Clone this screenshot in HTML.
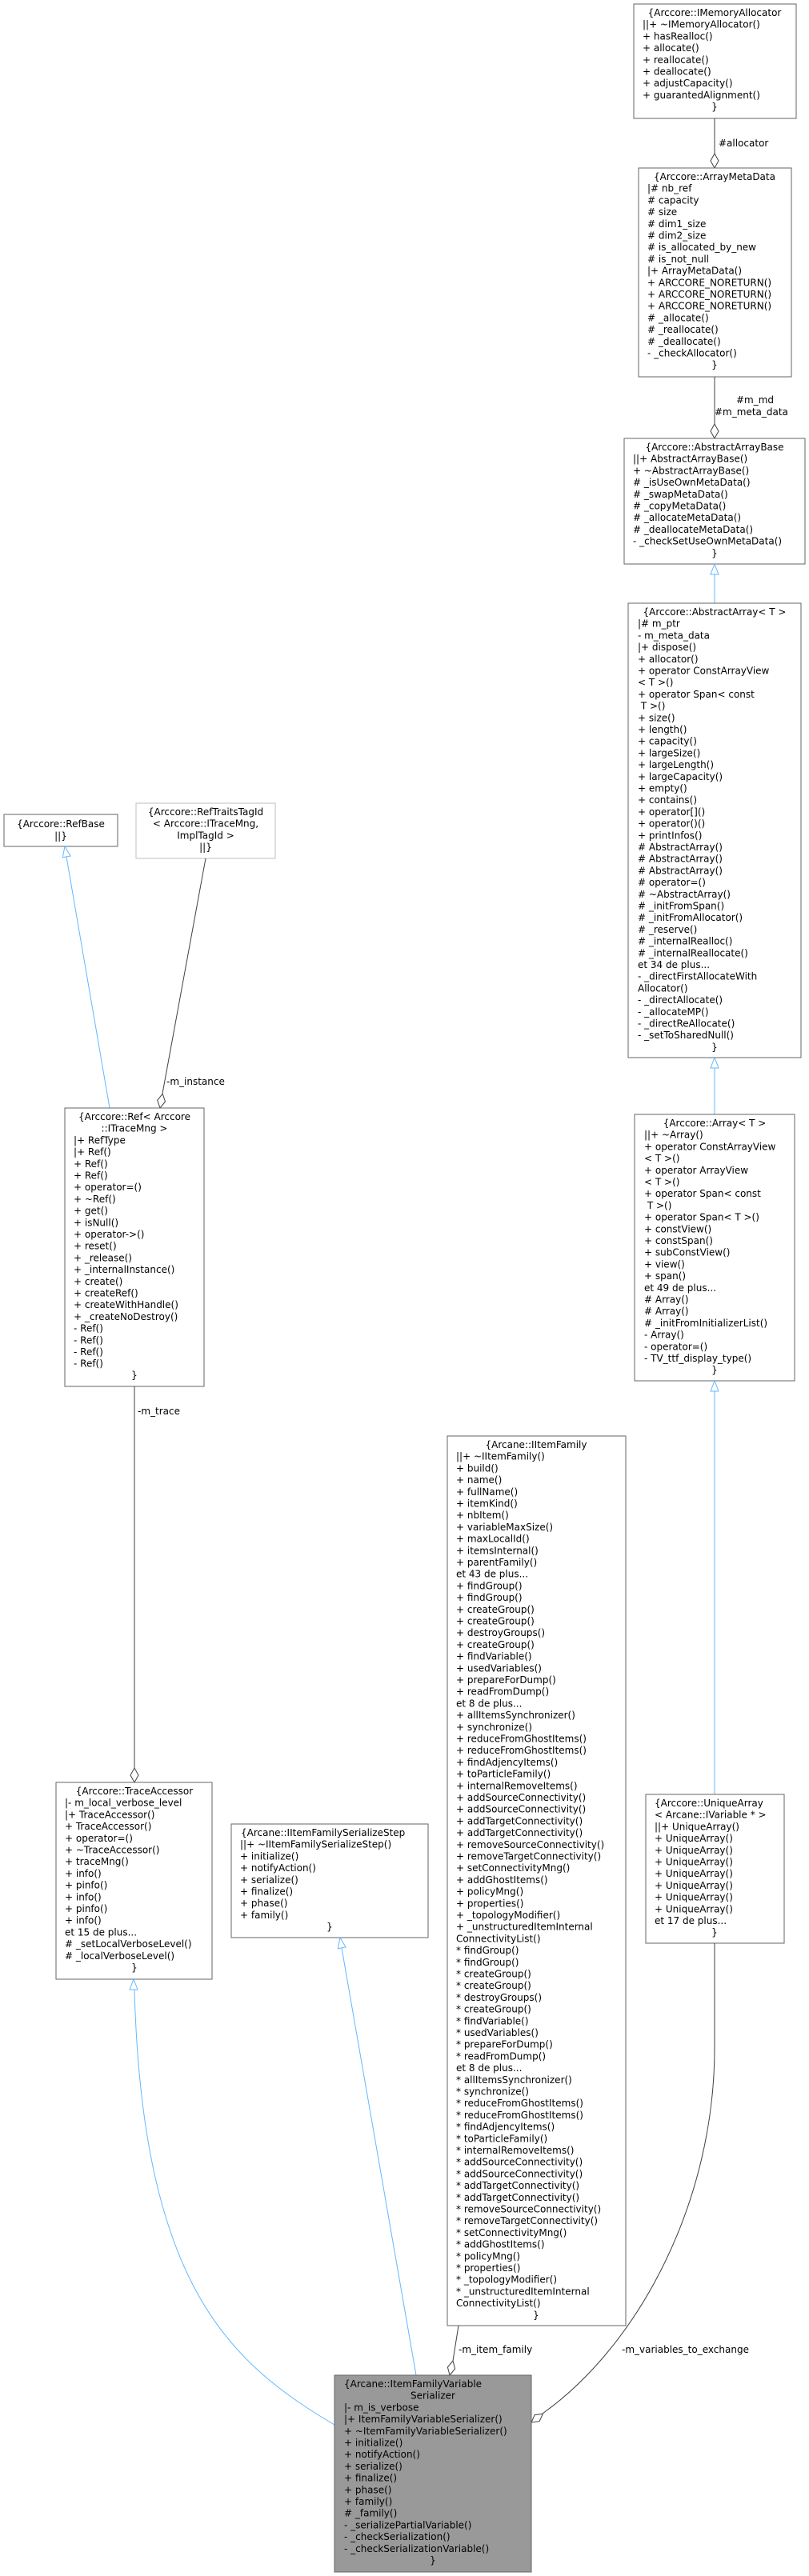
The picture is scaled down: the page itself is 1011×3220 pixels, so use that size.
<!DOCTYPE html>
<html><head><meta charset="utf-8"><style>
html,body{margin:0;padding:0;background:#fff;}
svg{display:block;}
text{font-family:"DejaVu Sans","Liberation Sans",sans-serif;font-size:12px;fill:#000;}
.b{fill:#fff;stroke:#666;stroke-width:1;}
.inh{fill:none;stroke:#63b8ff;stroke-width:1;}
.use{fill:none;stroke:#404040;stroke-width:1;}
.tri{fill:#fff;stroke:#63b8ff;stroke-width:1;}
.dia{fill:#fff;stroke:#404040;stroke-width:1;}
.m{text-anchor:middle;}
</style></head><body>
<svg width="1011" height="3220" viewBox="0 0 1011 3220" xmlns="http://www.w3.org/2000/svg">

<!-- IMemoryAllocator -->
<rect class="b" x="792" y="5" width="203" height="143"/>
<text class="m" x="893" y="20">{Arccore::IMemoryAllocator</text>
<text x="803" y="20"><tspan x="803" dy="14.7">||+ ~IMemoryAllocator()</tspan><tspan x="803" dy="14.7">+ hasRealloc()</tspan><tspan x="803" dy="14.7">+ allocate()</tspan><tspan x="803" dy="14.7">+ reallocate()</tspan><tspan x="803" dy="14.7">+ deallocate()</tspan><tspan x="803" dy="14.7">+ adjustCapacity()</tspan><tspan x="803" dy="14.7">+ guarantedAlignment()</tspan></text>
<text class="m" x="893" y="137.6">}</text>

<line class="use" x1="893" y1="148" x2="893" y2="192"/>
<polygon class="dia" points="893,210 898,201 893,192 888,201"/>
<text x="898" y="183">#allocator</text>

<!-- ArrayMetaData -->
<rect class="b" x="798" y="210" width="191" height="261"/>
<text class="m" x="893" y="225">{Arccore::ArrayMetaData</text>
<text x="809" y="225"><tspan x="809" dy="14.7">|# nb_ref</tspan><tspan x="809" dy="14.7"># capacity</tspan><tspan x="809" dy="14.7"># size</tspan><tspan x="809" dy="14.7"># dim1_size</tspan><tspan x="809" dy="14.7"># dim2_size</tspan><tspan x="809" dy="14.7"># is_allocated_by_new</tspan><tspan x="809" dy="14.7"># is_not_null</tspan><tspan x="809" dy="14.7">|+ ArrayMetaData()</tspan><tspan x="809" dy="14.7">+ ARCCORE_NORETURN()</tspan><tspan x="809" dy="14.7">+ ARCCORE_NORETURN()</tspan><tspan x="809" dy="14.7">+ ARCCORE_NORETURN()</tspan><tspan x="809" dy="14.7"># _allocate()</tspan><tspan x="809" dy="14.7"># _reallocate()</tspan><tspan x="809" dy="14.7"># _deallocate()</tspan><tspan x="809" dy="14.7">- _checkAllocator()</tspan></text>
<text class="m" x="893" y="460.2">}</text>

<line class="use" x1="893" y1="471" x2="893" y2="530"/>
<polygon class="dia" points="893,548 898,539 893,530 888,539"/>
<text x="920" y="504">#m_md</text>
<text x="893" y="519">#m_meta_data</text>

<!-- AbstractArrayBase -->
<rect class="b" x="780" y="548" width="226" height="157"/>
<text class="m" x="893" y="563">{Arccore::AbstractArrayBase</text>
<text x="791" y="563"><tspan x="791" dy="14.7">||+ AbstractArrayBase()</tspan><tspan x="791" dy="14.7">+ ~AbstractArrayBase()</tspan><tspan x="791" dy="14.7"># _isUseOwnMetaData()</tspan><tspan x="791" dy="14.7"># _swapMetaData()</tspan><tspan x="791" dy="14.7"># _copyMetaData()</tspan><tspan x="791" dy="14.7"># _allocateMetaData()</tspan><tspan x="791" dy="14.7"># _deallocateMetaData()</tspan><tspan x="791" dy="14.7">- _checkSetUseOwnMetaData()</tspan></text>
<text class="m" x="893" y="695.3">}</text>

<line class="inh" x1="893" y1="754" x2="893" y2="718"/>
<polygon class="tri" points="893,705 888,718 898,718"/>

<!-- AbstractArray -->
<rect class="b" x="785" y="754" width="216" height="568"/>
<text class="m" x="893" y="769">{Arccore::AbstractArray&lt; T &gt;</text>
<text x="797" y="769"><tspan x="797" dy="14.7">|# m_ptr</tspan><tspan x="797" dy="14.7">- m_meta_data</tspan><tspan x="797" dy="14.7">|+ dispose()</tspan><tspan x="797" dy="14.7">+ allocator()</tspan><tspan x="797" dy="14.7">+ operator ConstArrayView</tspan><tspan x="797" dy="14.7">&lt; T &gt;()</tspan><tspan x="797" dy="14.7">+ operator Span&lt; const</tspan><tspan x="797" dy="14.7"> T &gt;()</tspan><tspan x="797" dy="14.7">+ size()</tspan><tspan x="797" dy="14.7">+ length()</tspan><tspan x="797" dy="14.7">+ capacity()</tspan><tspan x="797" dy="14.7">+ largeSize()</tspan><tspan x="797" dy="14.7">+ largeLength()</tspan><tspan x="797" dy="14.7">+ largeCapacity()</tspan><tspan x="797" dy="14.7">+ empty()</tspan><tspan x="797" dy="14.7">+ contains()</tspan><tspan x="797" dy="14.7">+ operator[]()</tspan><tspan x="797" dy="14.7">+ operator()()</tspan><tspan x="797" dy="14.7">+ printInfos()</tspan><tspan x="797" dy="14.7"># AbstractArray()</tspan><tspan x="797" dy="14.7"># AbstractArray()</tspan><tspan x="797" dy="14.7"># AbstractArray()</tspan><tspan x="797" dy="14.7"># operator=()</tspan><tspan x="797" dy="14.7"># ~AbstractArray()</tspan><tspan x="797" dy="14.7"># _initFromSpan()</tspan><tspan x="797" dy="14.7"># _initFromAllocator()</tspan><tspan x="797" dy="14.7"># _reserve()</tspan><tspan x="797" dy="14.7"># _internalRealloc()</tspan><tspan x="797" dy="14.7"># _internalReallocate()</tspan><tspan x="797" dy="14.7">et 34 de plus...</tspan><tspan x="797" dy="14.7">- _directFirstAllocateWith</tspan><tspan x="797" dy="14.7">Allocator()</tspan><tspan x="797" dy="14.7">- _directAllocate()</tspan><tspan x="797" dy="14.7">- _allocateMP()</tspan><tspan x="797" dy="14.7">- _directReAllocate()</tspan><tspan x="797" dy="14.7">- _setToSharedNull()</tspan></text>
<text class="m" x="893" y="1312.9">}</text>

<line class="inh" x1="893" y1="1393" x2="893" y2="1335"/>
<polygon class="tri" points="893,1322 888,1335 898,1335"/>

<!-- Array -->
<rect class="b" x="793" y="1393" width="200" height="333"/>
<text class="m" x="893" y="1408">{Arccore::Array&lt; T &gt;</text>
<text x="805" y="1408"><tspan x="805" dy="14.7">||+ ~Array()</tspan><tspan x="805" dy="14.7">+ operator ConstArrayView</tspan><tspan x="805" dy="14.7">&lt; T &gt;()</tspan><tspan x="805" dy="14.7">+ operator ArrayView</tspan><tspan x="805" dy="14.7">&lt; T &gt;()</tspan><tspan x="805" dy="14.7">+ operator Span&lt; const</tspan><tspan x="805" dy="14.7"> T &gt;()</tspan><tspan x="805" dy="14.7">+ operator Span&lt; T &gt;()</tspan><tspan x="805" dy="14.7">+ constView()</tspan><tspan x="805" dy="14.7">+ constSpan()</tspan><tspan x="805" dy="14.7">+ subConstView()</tspan><tspan x="805" dy="14.7">+ view()</tspan><tspan x="805" dy="14.7">+ span()</tspan><tspan x="805" dy="14.7">et 49 de plus...</tspan><tspan x="805" dy="14.7"># Array()</tspan><tspan x="805" dy="14.7"># Array()</tspan><tspan x="805" dy="14.7"># _initFromInitializerList()</tspan><tspan x="805" dy="14.7">- Array()</tspan><tspan x="805" dy="14.7">- operator=()</tspan><tspan x="805" dy="14.7">- TV_ttf_display_type()</tspan></text>
<text class="m" x="893" y="1716.7">}</text>

<line class="inh" x1="893" y1="2243" x2="893" y2="1739"/>
<polygon class="tri" points="893,1726 888,1739 898,1739"/>

<!-- UniqueArray -->
<rect class="b" x="807" y="2243" width="173" height="186"/>
<text x="818" y="2258">{Arccore::UniqueArray</text>
<text x="818" y="2258"><tspan x="818" dy="14.7">&lt; Arcane::IVariable * &gt;</tspan><tspan x="818" dy="14.7">||+ UniqueArray()</tspan><tspan x="818" dy="14.7">+ UniqueArray()</tspan><tspan x="818" dy="14.7">+ UniqueArray()</tspan><tspan x="818" dy="14.7">+ UniqueArray()</tspan><tspan x="818" dy="14.7">+ UniqueArray()</tspan><tspan x="818" dy="14.7">+ UniqueArray()</tspan><tspan x="818" dy="14.7">+ UniqueArray()</tspan><tspan x="818" dy="14.7">+ UniqueArray()</tspan><tspan x="818" dy="14.7">et 17 de plus...</tspan></text>
<text class="m" x="893" y="2419.7">}</text>

<!-- RefBase -->
<rect class="b" x="5" y="1018" width="142" height="40"/>
<text class="m" x="76" y="1034">{Arccore::RefBase</text>
<text class="m" x="76" y="1049">||}</text>

<!-- RefTraitsTagId -->
<rect x="170" y="1004" width="174" height="69" fill="#fff" stroke="#bfbfbf"/>
<text class="m" x="257" y="1019">{Arccore::RefTraitsTagId</text>
<text class="m" x="257" y="1033.7">&lt; Arccore::ITraceMng,</text>
<text class="m" x="257" y="1048.4">ImplTagId &gt;</text>
<text class="m" x="257" y="1063.1">||}</text>

<!-- Ref -> RefBase -->
<line class="inh" x1="137" y1="1385" x2="83" y2="1071"/>
<polygon class="tri" points="81,1058 88.1,1070 78.3,1071.7"/>
<!-- RefTraits -> Ref -->
<line class="use" x1="257" y1="1073" x2="203" y2="1367"/>
<polygon class="dia" points="200,1385 206.5,1377 203.2,1367.3 196.7,1375.2"/>
<text x="208" y="1356">-m_instance</text>

<!-- Ref -->
<rect class="b" x="81" y="1385" width="174" height="348"/>
<text class="m" x="168" y="1400">{Arccore::Ref&lt; Arccore</text>
<text class="m" x="168" y="1414.7">::ITraceMng &gt;</text>
<text x="92" y="1414.7"><tspan x="92" dy="14.7">|+ RefType</tspan><tspan x="92" dy="14.7">|+ Ref()</tspan><tspan x="92" dy="14.7">+ Ref()</tspan><tspan x="92" dy="14.7">+ Ref()</tspan><tspan x="92" dy="14.7">+ operator=()</tspan><tspan x="92" dy="14.7">+ ~Ref()</tspan><tspan x="92" dy="14.7">+ get()</tspan><tspan x="92" dy="14.7">+ isNull()</tspan><tspan x="92" dy="14.7">+ operator-&gt;()</tspan><tspan x="92" dy="14.7">+ reset()</tspan><tspan x="92" dy="14.7">+ _release()</tspan><tspan x="92" dy="14.7">+ _internalInstance()</tspan><tspan x="92" dy="14.7">+ create()</tspan><tspan x="92" dy="14.7">+ createRef()</tspan><tspan x="92" dy="14.7">+ createWithHandle()</tspan><tspan x="92" dy="14.7">+ _createNoDestroy()</tspan><tspan x="92" dy="14.7">- Ref()</tspan><tspan x="92" dy="14.7">- Ref()</tspan><tspan x="92" dy="14.7">- Ref()</tspan><tspan x="92" dy="14.7">- Ref()</tspan></text>
<text class="m" x="168" y="1723.2">}</text>

<line class="use" x1="168" y1="1733" x2="168" y2="2210"/>
<polygon class="dia" points="168,2228 173,2219 168,2210 163,2219"/>
<text x="172" y="1768">-m_trace</text>

<!-- TraceAccessor -->
<rect class="b" x="70" y="2228" width="195" height="246"/>
<text class="m" x="168" y="2243">{Arccore::TraceAccessor</text>
<text x="81" y="2243"><tspan x="81" dy="14.7">|- m_local_verbose_level</tspan><tspan x="81" dy="14.7">|+ TraceAccessor()</tspan><tspan x="81" dy="14.7">+ TraceAccessor()</tspan><tspan x="81" dy="14.7">+ operator=()</tspan><tspan x="81" dy="14.7">+ ~TraceAccessor()</tspan><tspan x="81" dy="14.7">+ traceMng()</tspan><tspan x="81" dy="14.7">+ info()</tspan><tspan x="81" dy="14.7">+ pinfo()</tspan><tspan x="81" dy="14.7">+ info()</tspan><tspan x="81" dy="14.7">+ pinfo()</tspan><tspan x="81" dy="14.7">+ info()</tspan><tspan x="81" dy="14.7">et 15 de plus...</tspan><tspan x="81" dy="14.7"># _setLocalVerboseLevel()</tspan><tspan x="81" dy="14.7"># _localVerboseLevel()</tspan></text>
<text class="m" x="168" y="2463.5">}</text>

<!-- IItemFamilySerializeStep -->
<rect class="b" x="289" y="2280" width="246" height="142"/>
<text x="301" y="2295">{Arcane::IItemFamilySerializeStep</text>
<text x="300" y="2295"><tspan x="300" dy="14.7">||+ ~IItemFamilySerializeStep()</tspan><tspan x="300" dy="14.7">+ initialize()</tspan><tspan x="300" dy="14.7">+ notifyAction()</tspan><tspan x="300" dy="14.7">+ serialize()</tspan><tspan x="300" dy="14.7">+ finalize()</tspan><tspan x="300" dy="14.7">+ phase()</tspan><tspan x="300" dy="14.7">+ family()</tspan></text>
<text class="m" x="412" y="2412.6">}</text>

<!-- IItemFamily -->
<rect class="b" x="559" y="1795" width="223" height="1112"/>
<text class="m" x="670" y="1810">{Arcane::IItemFamily</text>
<text x="570" y="1810"><tspan x="570" dy="14.7">||+ ~IItemFamily()</tspan><tspan x="570" dy="14.7">+ build()</tspan><tspan x="570" dy="14.7">+ name()</tspan><tspan x="570" dy="14.7">+ fullName()</tspan><tspan x="570" dy="14.7">+ itemKind()</tspan><tspan x="570" dy="14.7">+ nbItem()</tspan><tspan x="570" dy="14.7">+ variableMaxSize()</tspan><tspan x="570" dy="14.7">+ maxLocalId()</tspan><tspan x="570" dy="14.7">+ itemsInternal()</tspan><tspan x="570" dy="14.7">+ parentFamily()</tspan><tspan x="570" dy="14.7">et 43 de plus...</tspan><tspan x="570" dy="14.7">+ findGroup()</tspan><tspan x="570" dy="14.7">+ findGroup()</tspan><tspan x="570" dy="14.7">+ createGroup()</tspan><tspan x="570" dy="14.7">+ createGroup()</tspan><tspan x="570" dy="14.7">+ destroyGroups()</tspan><tspan x="570" dy="14.7">+ createGroup()</tspan><tspan x="570" dy="14.7">+ findVariable()</tspan><tspan x="570" dy="14.7">+ usedVariables()</tspan><tspan x="570" dy="14.7">+ prepareForDump()</tspan><tspan x="570" dy="14.7">+ readFromDump()</tspan><tspan x="570" dy="14.7">et 8 de plus...</tspan><tspan x="570" dy="14.7">+ allItemsSynchronizer()</tspan><tspan x="570" dy="14.7">+ synchronize()</tspan><tspan x="570" dy="14.7">+ reduceFromGhostItems()</tspan><tspan x="570" dy="14.7">+ reduceFromGhostItems()</tspan><tspan x="570" dy="14.7">+ findAdjencyItems()</tspan><tspan x="570" dy="14.7">+ toParticleFamily()</tspan><tspan x="570" dy="14.7">+ internalRemoveItems()</tspan><tspan x="570" dy="14.7">+ addSourceConnectivity()</tspan><tspan x="570" dy="14.7">+ addSourceConnectivity()</tspan><tspan x="570" dy="14.7">+ addTargetConnectivity()</tspan><tspan x="570" dy="14.7">+ addTargetConnectivity()</tspan><tspan x="570" dy="14.7">+ removeSourceConnectivity()</tspan><tspan x="570" dy="14.7">+ removeTargetConnectivity()</tspan><tspan x="570" dy="14.7">+ setConnectivityMng()</tspan><tspan x="570" dy="14.7">+ addGhostItems()</tspan><tspan x="570" dy="14.7">+ policyMng()</tspan><tspan x="570" dy="14.7">+ properties()</tspan><tspan x="570" dy="14.7">+ _topologyModifier()</tspan><tspan x="570" dy="14.7">+ _unstructuredItemInternal</tspan><tspan x="570" dy="14.7">ConnectivityList()</tspan><tspan x="570" dy="14.7">* findGroup()</tspan><tspan x="570" dy="14.7">* findGroup()</tspan><tspan x="570" dy="14.7">* createGroup()</tspan><tspan x="570" dy="14.7">* createGroup()</tspan><tspan x="570" dy="14.7">* destroyGroups()</tspan><tspan x="570" dy="14.7">* createGroup()</tspan><tspan x="570" dy="14.7">* findVariable()</tspan><tspan x="570" dy="14.7">* usedVariables()</tspan><tspan x="570" dy="14.7">* prepareForDump()</tspan><tspan x="570" dy="14.7">* readFromDump()</tspan><tspan x="570" dy="14.7">et 8 de plus...</tspan><tspan x="570" dy="14.7">* allItemsSynchronizer()</tspan><tspan x="570" dy="14.7">* synchronize()</tspan><tspan x="570" dy="14.7">* reduceFromGhostItems()</tspan><tspan x="570" dy="14.7">* reduceFromGhostItems()</tspan><tspan x="570" dy="14.7">* findAdjencyItems()</tspan><tspan x="570" dy="14.7">* toParticleFamily()</tspan><tspan x="570" dy="14.7">* internalRemoveItems()</tspan><tspan x="570" dy="14.7">* addSourceConnectivity()</tspan><tspan x="570" dy="14.7">* addSourceConnectivity()</tspan><tspan x="570" dy="14.7">* addTargetConnectivity()</tspan><tspan x="570" dy="14.7">* addTargetConnectivity()</tspan><tspan x="570" dy="14.7">* removeSourceConnectivity()</tspan><tspan x="570" dy="14.7">* removeTargetConnectivity()</tspan><tspan x="570" dy="14.7">* setConnectivityMng()</tspan><tspan x="570" dy="14.7">* addGhostItems()</tspan><tspan x="570" dy="14.7">* policyMng()</tspan><tspan x="570" dy="14.7">* properties()</tspan><tspan x="570" dy="14.7">* _topologyModifier()</tspan><tspan x="570" dy="14.7">* _unstructuredItemInternal</tspan><tspan x="570" dy="14.7">ConnectivityList()</tspan></text>
<text class="m" x="670" y="2897.8">}</text>

<!-- edges to final -->
<path class="inh" d="M418,3031 C290,2955 178,2860 168,2487"/>
<polygon class="tri" points="167,2474 162,2487 172,2487"/>
<line class="inh" x1="520" y1="2969" x2="427" y2="2435"/>
<polygon class="tri" points="425,2422 432.1,2433.9 422.3,2435.7"/>
<line class="use" x1="573" y1="2907" x2="566" y2="2951"/>
<polygon class="dia" points="562,2969 568.6,2961 566,2951 559.4,2959"/>
<text x="573" y="2941">-m_item_family</text>
<path class="use" d="M893,2429 L893,2560 C893,2750 800,2930 678,3017"/>
<polygon class="dia" points="664,3028 674.2,3026.6 678.4,3017.2 668.2,3018.6"/>
<text x="777" y="2941">-m_variables_to_exchange</text>

<!-- Final -->
<rect x="418" y="2969" width="246" height="246" fill="#999" stroke="#666"/>
<text x="430" y="2984">{Arcane::ItemFamilyVariable</text>
<text class="m" x="541" y="2998.7">Serializer</text>
<text x="430" y="2998.7"><tspan x="430" dy="14.7">|- m_is_verbose</tspan><tspan x="430" dy="14.7">|+ ItemFamilyVariableSerializer()</tspan><tspan x="430" dy="14.7">+ ~ItemFamilyVariableSerializer()</tspan><tspan x="430" dy="14.7">+ initialize()</tspan><tspan x="430" dy="14.7">+ notifyAction()</tspan><tspan x="430" dy="14.7">+ serialize()</tspan><tspan x="430" dy="14.7">+ finalize()</tspan><tspan x="430" dy="14.7">+ phase()</tspan><tspan x="430" dy="14.7">+ family()</tspan><tspan x="430" dy="14.7"># _family()</tspan><tspan x="430" dy="14.7">- _serializePartialVariable()</tspan><tspan x="430" dy="14.7">- _checkSerialization()</tspan><tspan x="430" dy="14.7">- _checkSerializationVariable()</tspan></text>
<text class="m" x="541" y="3204.5">}</text>
</svg>
</body></html>
